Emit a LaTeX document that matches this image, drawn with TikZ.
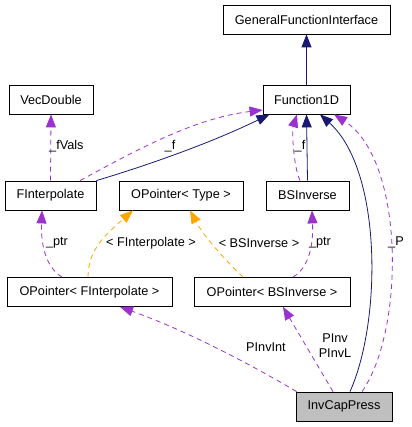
\documentclass[tikz,border=0pt]{standalone}
\usepackage{fontspec}
\setmainfont{Liberation Sans}
\usepackage{tikz}
\usetikzlibrary{arrows.meta,shapes}
\definecolor{inhblue}{HTML}{191970}
\definecolor{usepurple}{HTML}{9A32CD}
\definecolor{tmplorange}{HTML}{FFA500}
\begin{document}
\begin{tikzpicture}[x=1pt,y=-1pt]
			
			\tikzstyle{every node}=[font=\fontsize{12.7}{15}\selectfont]
			\tikzstyle{cls}=[draw=black, line width=0.8pt, minimum height=29pt, inner sep=0pt]
			\tikzstyle{lbl}=[inner sep=0pt]
			\tikzstyle{inh}=[draw=inhblue, line width=0.8pt, -{Triangle[length=13pt,width=10pt]}]
			\tikzstyle{use}=[draw=usepurple, line width=0.8pt, dash pattern=on 5pt off 4pt, -{Triangle[length=13pt,width=10pt]}]
			\tikzstyle{tmpl}=[draw=tmplorange, line width=0.8pt, dash pattern=on 5pt off 4pt, -{Triangle[length=13pt,width=10pt]}]
			
			\useasboundingbox (0,0) rectangle (411,427);
			
			\node[cls, minimum width=167pt] (gfi) at (306.5,19.5) {GeneralFunctionInterface};
			\node[cls, minimum width=87pt] (fun) at (306.5,99.5) {Function1D};
			\node[cls, minimum width=84pt] (vec) at (51,99.5) {VecDouble};
			\node[cls, minimum width=91pt] (finterp) at (50.5,195.5) {FInterpolate};
			\node[cls, minimum width=124pt] (optype) at (181,195.5) {OPointer< Type >};
			\node[cls, minimum width=83pt] (bsinv) at (307.5,195.5) {BSInverse};
			\node[cls, minimum width=165pt] (opfi) at (89.5,292) {OPointer< FInterpolate >};
			\node[cls, minimum width=156pt] (opbs) at (272,292) {OPointer< BSInverse >};
			\node[cls, minimum width=96pt, fill=black!25] (icp) at (344,406.5) {InvCapPress};
			
			% inheritance
			\draw[inh] (fun.north) -- (gfi.south);
			\draw[inh] (finterp.north east) .. controls (155,163) and (215,141) .. ([xshift=-37pt]fun.south);
			\draw[inh] (bsinv.north) -- (fun.south);
			\draw[inh] ([xshift=6pt]icp.north) .. controls (382,320) and (382,170) .. ([xshift=13.5pt]fun.south);
			
			% usage
			\draw[use] ([xshift=29.5pt]finterp.north) .. controls (140,148) and (196,118) .. ([yshift=-10.5pt]fun.west);
			\draw[use] (finterp.north) -- (vec.south);
			\draw[use] ([xshift=-7.5pt]bsinv.north) .. controls (293,165) and (292,130) .. ([xshift=-9.5pt]fun.south);
			\draw[use] ([xshift=18pt]icp.north) .. controls (405,330) and (405,160) .. ([xshift=27.5pt]fun.south);
			\draw[use] ([xshift=-27.5pt]opfi.north) .. controls (42,265) and (41,235) .. ([xshift=-8.5pt]finterp.south);
			\draw[use] ([xshift=21pt]opbs.north) .. controls (313,265) and (313,235) .. ([xshift=4.5pt]bsinv.south);
			\draw[use] ([xshift=1pt]icp.north west) .. controls (238,357) and (179,328) .. ([xshift=30.5pt]opfi.south);
			\draw[use] ([xshift=-11pt]icp.north) -- ([xshift=11pt]opbs.south);
			
			% templates
			\draw[tmpl] ([xshift=-1.5pt]opfi.north) .. controls (88,250) and (105,235) .. ([xshift=-48pt]optype.south);
			\draw[tmpl] ([xshift=-29pt]opbs.north) .. controls (219,254) and (202,233) .. ([xshift=9pt]optype.south);
			
			\node[lbl] (l_f) at (170,146) {\_f};
			\node[lbl, anchor=west] (l_fvals) at (49,146) {\_fVals};
			\node[lbl] (l_fb) at (300,146) {\_f};
			\node[lbl] (l_p) at (396,242) {\_P};
			\node[lbl] (l_ptra) at (57,243) {\_ptr};
			\node[lbl] (l_ptrb) at (320,243) {\_ptr};
			\node[lbl] (l_tfi) at (151,243) {< FInterpolate >};
			\node[lbl] (l_tbs) at (259,243) {< BSInverse >};
			\node[lbl] (l_pint) at (266,347) {PInvInt};
			\node[lbl, align=center] (l_pinv) at (335,346) {PInv\\PInvL};
			
\end{tikzpicture}
\end{document}
